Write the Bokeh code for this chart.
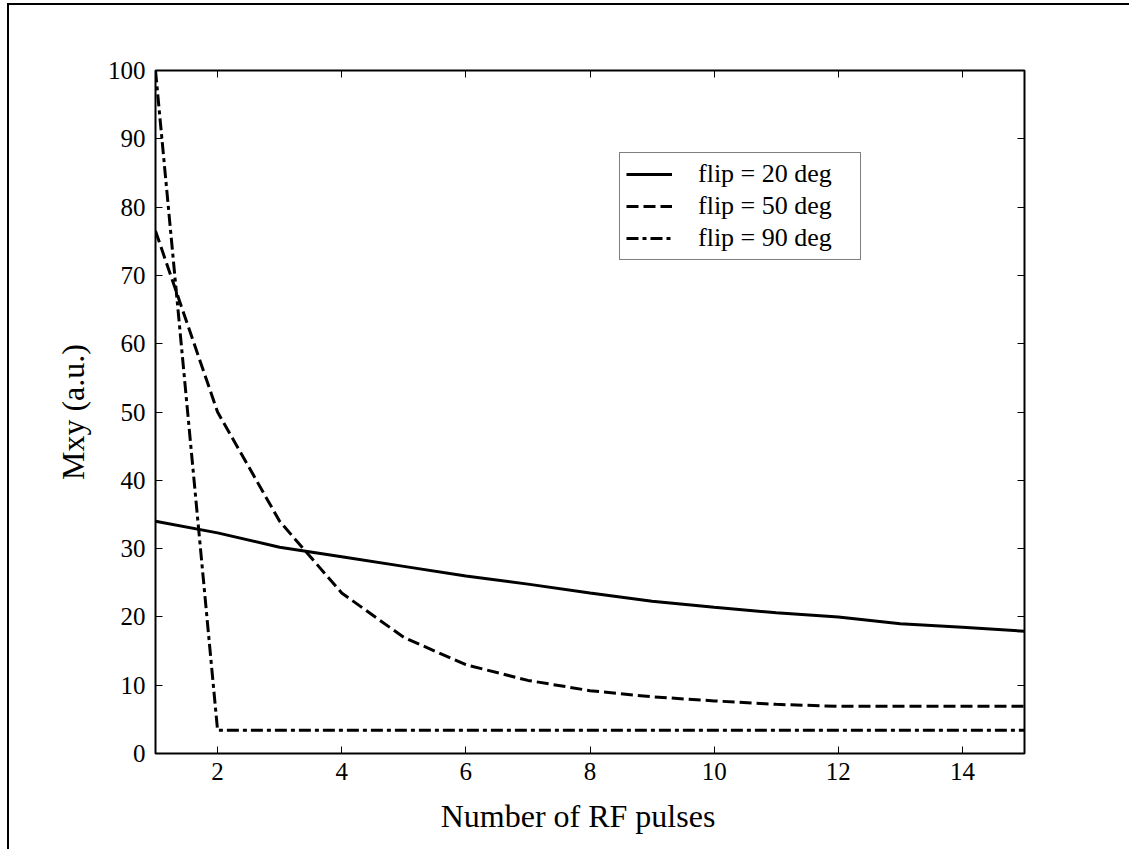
from bokeh.plotting import figure
from bokeh.models import LinearAxis, FixedTicker, Legend, LegendItem, Range1d
from bokeh.embed import file_html
from bokeh.resources import INLINE

pulses = list(range(1, 16))
flip20 = [34.0, 32.3, 30.2, 28.8, 27.4, 26.0, 24.8, 23.5, 22.3, 21.4, 20.6, 20.0, 19.0, 18.5, 17.9]
flip50 = [76.5, 50.0, 34.0, 23.5, 17.0, 13.0, 10.7, 9.2, 8.3, 7.7, 7.2, 6.9, 6.9, 6.9, 6.9]
flip90 = [100.0, 3.4, 3.4, 3.4, 3.4, 3.4, 3.4, 3.4, 3.4, 3.4, 3.4, 3.4, 3.4, 3.4, 3.4]
labels = ["flip = 20 deg", "flip = 50 deg", "flip = 90 deg"]
x_ticks = [2, 4, 6, 8, 10, 12, 14]
y_ticks = [0, 10, 20, 30, 40, 50, 60, 70, 80, 90, 100]

FONT = "Liberation Serif"

p = figure(frame_width=869, frame_height=683,
           x_range=Range1d(1, 15), y_range=Range1d(0, 100),
           output_backend="svg", toolbar_location=None,
           min_border_left=146, min_border_top=65,
           min_border_right=105, min_border_bottom=96,
           x_axis_label="Number of RF pulses\u00a0\u00a0\u00a0", y_axis_label="Mxy (a.u.)")
p.styles = {"border-left": "2px solid black", "border-top": "2px solid black",
            "margin-left": "7px", "margin-top": "3px"}
p.grid.visible = False
p.outline_line_color = "black"
p.outline_line_width = 2
p.background_fill_color = "white"
p.border_fill_color = "white"


def style_axis(ax, ticks, show_labels=True):
    ax.ticker = FixedTicker(ticks=ticks)
    ax.major_tick_in = 7
    ax.major_tick_out = 0
    ax.minor_tick_in = 0
    ax.minor_tick_out = 0
    ax.axis_line_color = None
    ax.major_tick_line_color = "black"
    ax.major_tick_line_width = 1
    ax.major_label_text_font = FONT
    ax.major_label_text_color = "black"
    ax.axis_label_text_font = FONT
    ax.axis_label_text_font_style = "normal"
    ax.axis_label_text_font_size = "32px"
    ax.axis_label_text_color = "black"
    if show_labels:
        ax.major_label_text_font_size = "25px"
    else:
        ax.major_label_text_font_size = "0px"
        ax.major_label_text_color = None
        ax.major_label_standoff = 0


style_axis(p.xaxis[0], x_ticks)
style_axis(p.yaxis[0], y_ticks)
p.xaxis[0].major_label_standoff = 9
p.xaxis[0].axis_label_standoff = 15
p.yaxis[0].major_label_standoff = 10
p.yaxis[0].axis_label_standoff = 14

top = LinearAxis()
style_axis(top, x_ticks, False)
p.add_layout(top, "above")
right = LinearAxis()
style_axis(right, y_ticks, False)
p.add_layout(right, "right")

r1 = p.line(pulses, flip20, line_color="black", line_width=3)
r2 = p.line(pulses, flip50, line_color="black", line_width=3, line_dash="12 5")
r3 = p.line(pulses, flip90, line_color="black", line_width=3, line_dash="12 4 4 4")

legend = Legend(items=[LegendItem(label=labels[0], renderers=[r1]),
                       LegendItem(label=labels[1], renderers=[r2]),
                       LegendItem(label=labels[2], renderers=[r3])],
                location=(464, 493))
legend.border_line_color = "black"
legend.border_line_width = 1.5
legend.background_fill_color = "white"
legend.background_fill_alpha = 1
legend.label_text_font = FONT
legend.label_text_font_size = "26px"
legend.label_text_color = "black"
legend.glyph_width = 46
legend.glyph_height = 20
legend.label_standoff = 26
legend.padding = 6
legend.spacing = 2
legend.label_width = 156
legend.label_height = 30
legend.margin = 0
p.add_layout(legend)

open("out.html", "w").write(file_html(p, INLINE))
